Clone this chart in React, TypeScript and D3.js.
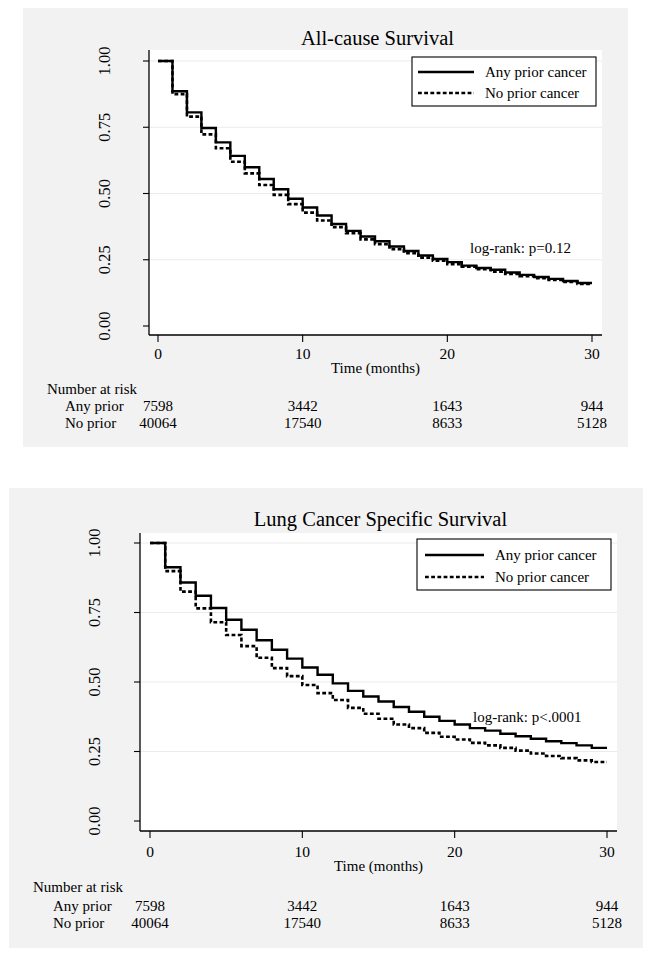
import React from "react";
import * as d3 from "d3";

const months = d3.range(0, 31);
const xTicks = [0, 10, 20, 30];
const yTicks = [0, 0.25, 0.5, 0.75, 1.0];
const yTickLabels = ["0.00", "0.25", "0.50", "0.75", "1.00"];
const seriesNames = ["Any prior cancer", "No prior cancer"];
const riskGroups = ["Any prior", "No prior"];
const riskAny = [7598, 3442, 1643, 944];
const riskNo = [40064, 17540, 8633, 5128];

// survival level during month interval [t, t+1)
const allCauseAny = [1.0, 0.886, 0.806, 0.747, 0.693, 0.642, 0.599, 0.555, 0.516, 0.48, 0.447, 0.417, 0.385, 0.359, 0.338, 0.32, 0.3, 0.283, 0.266, 0.253, 0.241, 0.228, 0.219, 0.212, 0.202, 0.193, 0.185, 0.178, 0.17, 0.162];
const allCauseNo = [1.0, 0.875, 0.79, 0.723, 0.671, 0.62, 0.576, 0.532, 0.495, 0.46, 0.428, 0.398, 0.373, 0.35, 0.327, 0.309, 0.29, 0.275, 0.258, 0.246, 0.233, 0.224, 0.214, 0.205, 0.196, 0.188, 0.18, 0.174, 0.166, 0.159];
const lungAny = [1.0, 0.913, 0.858, 0.81, 0.766, 0.724, 0.688, 0.65, 0.616, 0.584, 0.552, 0.526, 0.495, 0.468, 0.448, 0.43, 0.41, 0.393, 0.375, 0.36, 0.347, 0.334, 0.325, 0.314, 0.305, 0.296, 0.287, 0.28, 0.272, 0.263];
const lungNo = [1.0, 0.899, 0.825, 0.765, 0.715, 0.669, 0.629, 0.587, 0.55, 0.521, 0.489, 0.46, 0.435, 0.407, 0.386, 0.368, 0.347, 0.334, 0.317, 0.303, 0.293, 0.281, 0.272, 0.263, 0.253, 0.243, 0.234, 0.226, 0.218, 0.212];

const FONT = "'Liberation Serif', 'Times New Roman', serif";
const DASH = "3.8,2.4";

type PanelProps = {
  title: string;
  anyVals: number[];
  noVals: number[];
  pText: string;
  bg: { x: number; y: number; w: number; h: number };
  plot: { left: number; right: number; top: number; bottom: number };
  x0: number; x30: number; y1: number; y0: number;
  titleY: number;
  legend: { x: number; y: number; w: number; h: number; r1: number; r2: number; l1: number; l2: number; tx: number };
  pX: number; pY: number;
  tickLabelY: number; xLabelY: number;
  riskHeadX: number; riskRowX: number; riskHeadY: number; riskY1: number; riskY2: number;
  yLabelX: number;
};

function stepPoints(vals: number[]): [number, number][] {
  const pts: [number, number][] = [];
  vals.forEach((v, i) => pts.push([months[i], v]));
  pts.push([months[vals.length], vals[vals.length - 1]]);
  return pts;
}

function Panel(p: PanelProps) {
  const x = d3.scaleLinear().domain([0, 30]).range([p.x0, p.x30]);
  const y = d3.scaleLinear().domain([0, 1]).range([p.y0, p.y1]);
  const line = d3.line<[number, number]>().x((d) => x(d[0])).y((d) => y(d[1])).curve(d3.curveStepAfter);
  const cx = (p.plot.left + p.plot.right) / 2;
  return (
    <g fontFamily={FONT} fill="#000">
      <rect x={p.bg.x} y={p.bg.y} width={p.bg.w} height={p.bg.h} fill="#f2f2f2" />
      <rect x={p.plot.left} y={p.plot.top} width={p.plot.right - p.plot.left} height={p.plot.bottom - p.plot.top} fill="#fff" />
      {yTicks.filter((t) => t > 0).map((t) => (
        <line key={t} x1={p.plot.left} x2={p.plot.right} y1={y(t)} y2={y(t)} stroke="#ebebeb" strokeWidth={1.2} />
      ))}
      <text x={cx + 2} y={p.titleY} textAnchor="middle" fontSize={20.5}>{p.title}</text>
      {/* axes */}
      <line x1={p.plot.left} x2={p.plot.left} y1={p.plot.top} y2={p.plot.bottom} stroke="#000" strokeWidth={1.3} />
      <line x1={p.plot.left} x2={p.plot.right} y1={p.plot.bottom} y2={p.plot.bottom} stroke="#000" strokeWidth={1.3} />
      {yTicks.map((t, i) => (
        <g key={t}>
          <line x1={p.plot.left - 6} x2={p.plot.left} y1={y(t)} y2={y(t)} stroke="#000" strokeWidth={1.1} />
          <text transform={`translate(${p.yLabelX},${y(t)}) rotate(-90)`} textAnchor="middle" fontSize={16.5}>{yTickLabels[i]}</text>
        </g>
      ))}
      {xTicks.map((t) => (
        <g key={t}>
          <line x1={x(t)} x2={x(t)} y1={p.plot.bottom} y2={p.plot.bottom + 7} stroke="#000" strokeWidth={1.1} />
          <text x={x(t)} y={p.tickLabelY} textAnchor="middle" fontSize={15.5}>{t}</text>
        </g>
      ))}
      <text x={cx} y={p.xLabelY} textAnchor="middle" fontSize={15}>Time (months)</text>
      {/* curves */}
      <path d={line(stepPoints(p.noVals)) || ""} fill="none" stroke="#000" strokeWidth={2.6} strokeDasharray={DASH} />
      <path d={line(stepPoints(p.anyVals)) || ""} fill="none" stroke="#000" strokeWidth={2.4} />
      {/* legend */}
      <rect x={p.legend.x} y={p.legend.y} width={p.legend.w} height={p.legend.h} fill="#fff" stroke="#000" strokeWidth={1.1} />
      <line x1={p.legend.l1} x2={p.legend.l2} y1={p.legend.r1} y2={p.legend.r1} stroke="#000" strokeWidth={2.4} />
      <line x1={p.legend.l1} x2={p.legend.l2} y1={p.legend.r2} y2={p.legend.r2} stroke="#000" strokeWidth={2.6} strokeDasharray={DASH} />
      <text x={p.legend.tx} y={p.legend.r1 + 5} fontSize={15}>{seriesNames[0]}</text>
      <text x={p.legend.tx} y={p.legend.r2 + 5} fontSize={15}>{seriesNames[1]}</text>
      <text x={p.pX} y={p.pY} fontSize={15}>{p.pText}</text>
      {/* number at risk */}
      <text x={p.riskHeadX} y={p.riskHeadY} fontSize={15}>Number at risk</text>
      <text x={p.riskRowX} y={p.riskY1} fontSize={15}>{riskGroups[0]}</text>
      <text x={p.riskRowX} y={p.riskY2} fontSize={15}>{riskGroups[1]}</text>
      {xTicks.map((t, i) => (
        <g key={"r" + t}>
          <text x={x(t)} y={p.riskY1} textAnchor="middle" fontSize={15}>{riskAny[i]}</text>
          <text x={x(t)} y={p.riskY2} textAnchor="middle" fontSize={15}>{riskNo[i]}</text>
        </g>
      ))}
    </g>
  );
}

export default function App() {
  return (
    <svg width={649} height={958} style={{ position: "absolute", left: 0, top: 0 }}>
      <rect width={649} height={958} fill="#fff" />
      <Panel
        title="All-cause Survival"
        anyVals={allCauseAny}
        noVals={allCauseNo}
        pText="log-rank: p=0.12"
        bg={{ x: 23, y: 8, w: 605, h: 439 }}
        plot={{ left: 149, right: 602, top: 50, bottom: 335 }}
        x0={158} x30={592} y1={61} y0={326}
        titleY={45}
        legend={{ x: 412, y: 57, w: 184, h: 49, r1: 72, r2: 93, l1: 418, l2: 474, tx: 485 }}
        pX={470} pY={253}
        tickLabelY={358.5} xLabelY={373}
        riskHeadX={47} riskRowX={65} riskHeadY={394} riskY1={411} riskY2={428}
        yLabelX={109.5}
      />
      <Panel
        title="Lung Cancer Specific Survival"
        anyVals={lungAny}
        noVals={lungNo}
        pText="log-rank: p<.0001"
        bg={{ x: 9, y: 488, w: 634, h: 460 }}
        plot={{ left: 140, right: 617, top: 533, bottom: 831 }}
        x0={150} x30={607} y1={543} y0={821}
        titleY={526}
        legend={{ x: 417, y: 539, w: 194, h: 51, r1: 555, r2: 577, l1: 425, l2: 484, tx: 495 }}
        pX={473} pY={722}
        tickLabelY={856.5} xLabelY={871}
        riskHeadX={33} riskRowX={53} riskHeadY={892} riskY1={911} riskY2={928}
        yLabelX={99.5}
      />
    </svg>
  );
}
